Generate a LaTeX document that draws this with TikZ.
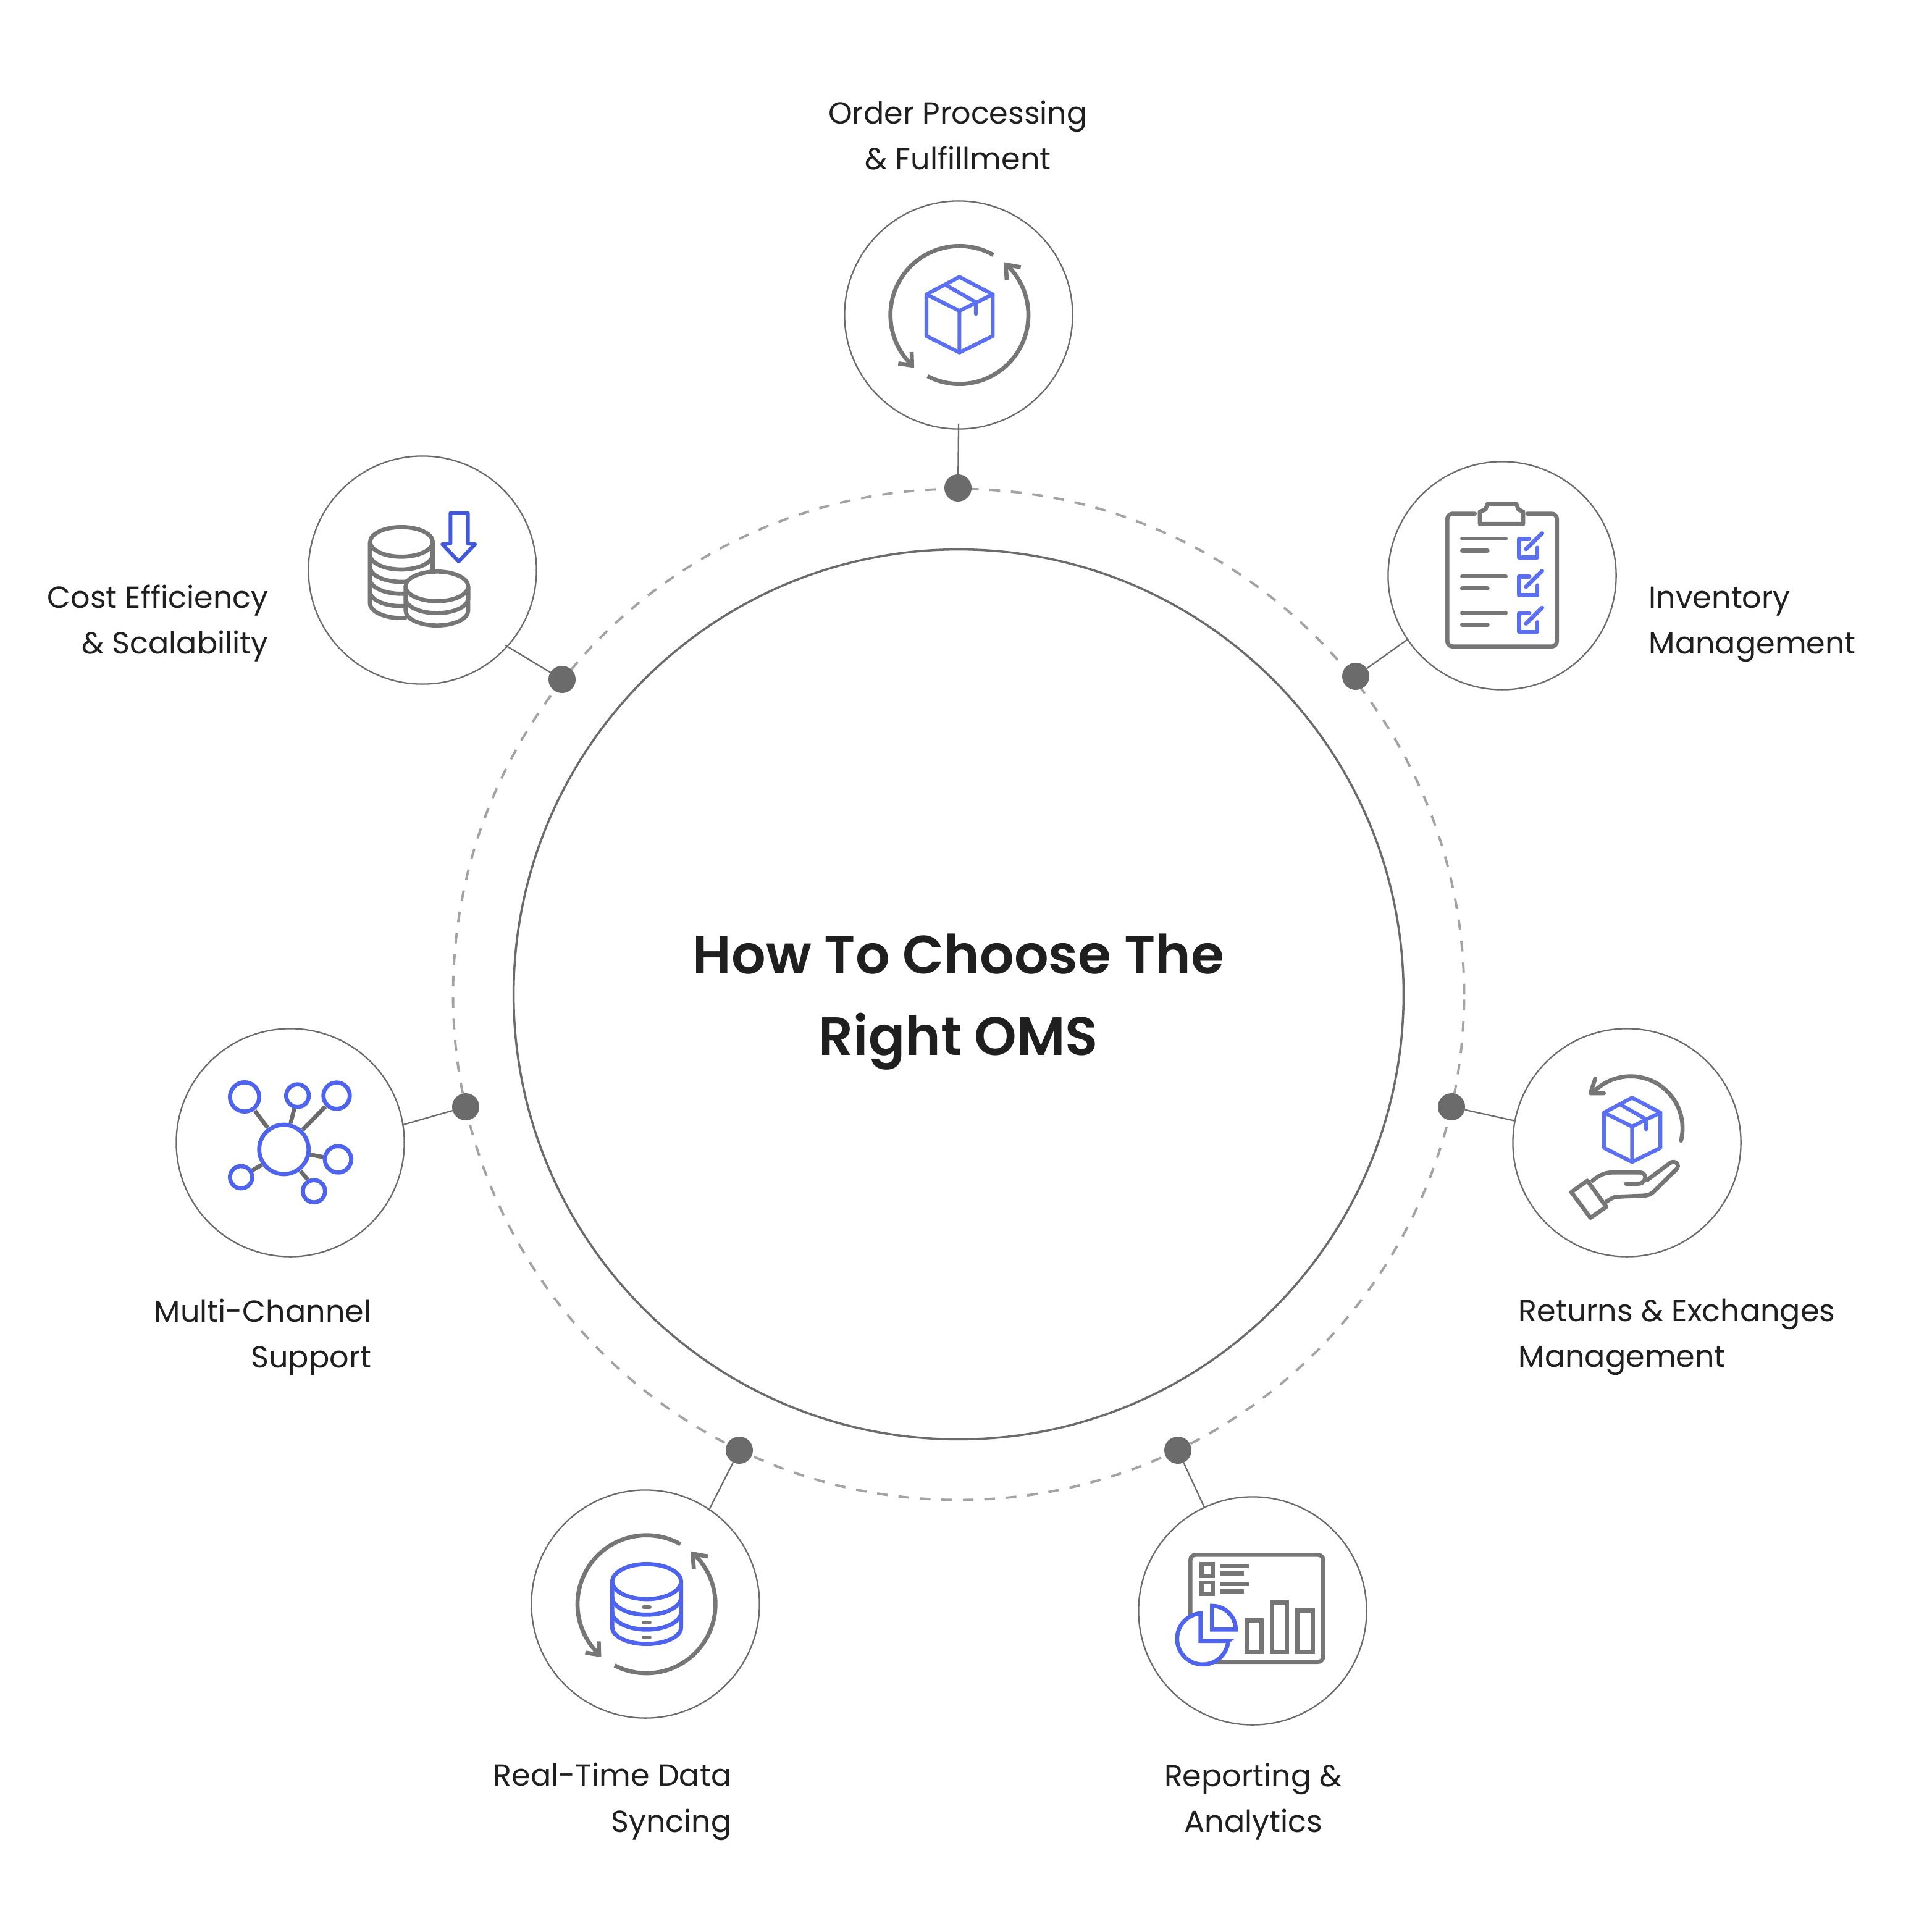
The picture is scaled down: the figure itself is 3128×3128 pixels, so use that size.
\documentclass[tikz,border=0pt]{standalone}
\usepackage{fontspec}
\setmainfont{Poppins}
\newfontfamily\titlefont{Poppins SemiBold}
\definecolor{ink}{HTML}{1F1F1F}
\definecolor{gr}{HTML}{767676}
\definecolor{dk}{HTML}{6B6B6B}
\definecolor{dsh}{HTML}{A3A3A3}
\definecolor{bl}{HTML}{5B6FF2}
\definecolor{bldb}{HTML}{4F64EE}
\definecolor{blar}{HTML}{4258DB}
\tikzset{
  ring/.style={circle,draw=dk,line width=0.65pt,minimum size=3.69cm,inner sep=0pt,outer sep=0pt,fill=white},
  dotn/.style={circle,fill=dk,minimum size=0.44cm,inner sep=0pt,outer sep=0pt},
  conn/.style={draw=dk,line width=0.65pt,shorten >=-0.4pt},
  lbl/.style={font=\fontsize{14}{21.2}\selectfont,text=ink,inner sep=0pt},
  gl/.style={draw=gr,line width=1.9pt,line join=round},
  bll/.style={draw=bl,line width=1.75pt,line join=round,line cap=round},
  rnd/.style={line cap=round}
}
\newcommand\ringarrows{%
  \draw[gl] (-60.5:335) arc[start angle=-60.5,end angle=-225,radius=335];
  \draw[gl] (117.5:335) arc[start angle=117.5,end angle=-45,radius=335];
  \draw[gl,line join=miter] (-232,180) -- (-230,245) -- (-297,235);
  \draw[gl,line join=miter] (230,-170) -- (225,-245) -- (298,-232);
}
\newcommand\boxicon{%
  \draw[bll] (0,-165) -- (162,-80) -- (162,122) -- (0,202) -- (-160,122) -- (-160,-80) -- cycle;
  \draw[bll] (-160,-80) -- (0,0) -- (162,-80) (0,0) -- (0,202);
  \draw[bll] (-65,-125) -- (80,-42) -- (80,15);
}
\newcommand\checkbox[1]{%
  \begin{scope}[shift={(0,#1)}]
  \draw[draw=bl,line width=1.9pt,line cap=round,line join=round] (708,367) -- (658,367) -- (658,457) -- (747,457) -- (747,410);
  \draw[draw=bl,line width=1.9pt,line cap=round] (692,417) -- (770,340);
  \end{scope}
}
\begin{document}
\begin{tikzpicture}[x=0.01cm,y=-0.01cm]
\useasboundingbox (0,0) rectangle (3128,3128);
\fill[white] (0,0) rectangle (3128,3128);
% rings
\node[circle,draw=dsh,line width=1.1pt,dash pattern=on 4.9pt off 5pt,minimum size=16.36cm,inner sep=0pt] (dashring) at (1552,1610) {};
\node[circle,draw=dk,line width=1pt,minimum size=14.4cm,inner sep=0pt] (core) at (1552,1610) {};
\node[align=center,text=ink,inner sep=0pt,font=\titlefont\fontsize{24.83}{37.7}\selectfont] (title) at (1552,1622) {How To Choose The\\Right OMS};
% outer circles
\node[ring] (c1) at (1552,510) {};
\node[ring] (c2) at (2432,932) {};
\node[ring] (c3) at (2634,1850) {};
\node[ring] (c4) at (2028,2608) {};
\node[ring] (c5) at (1045,2597) {};
\node[ring] (c6) at (470,1850) {};
\node[ring] (c7) at (684,923) {};
% dots
\node[dotn] (d1) at (1551,790) {};
\node[dotn] (d2) at (2195,1095) {};
\node[dotn] (d3) at (2350,1792) {};
\node[dotn] (d4) at (1907,2348) {};
\node[dotn] (d5) at (1197,2348) {};
\node[dotn] (d6) at (754,1792) {};
\node[dotn] (d7) at (910,1100) {};
% connectors
\draw[conn,shorten >=-2.5pt] (d1) -- (c1.south);
\draw[conn] (d2) -- (c2.214.7);
\draw[conn] (d3) -- (c3.169.9);
\draw[conn] (d4) -- (c4.115.4);
\draw[conn] (d5) -- (c5.56.6);
\draw[conn] (d6) -- (c6.9.2);
\draw[conn,shorten >=-1pt] (d7) -- (c7.-42.7);
% labels
\node[lbl,align=center] (l1) at (1551,219) {Order Processing\\\& Fulfillment};
\node[lbl,align=left,anchor=west] (l2) at (2669,1011) {Inventory\\Management};
\node[lbl,align=left,anchor=west] (l3) at (2458,2165) {Returns \& Exchanges\\Management};
\node[lbl,align=center] (l4) at (2029,2917) {Reporting \&\\Analytics};
\node[lbl,align=right,anchor=east] (l5) at (1185,2917) {Real-Time Data\\Syncing};
\node[lbl,align=right,anchor=east] (l6) at (602,2165) {Multi-Channel\\Support};
\node[lbl,align=right,anchor=east] (l7) at (435,1009) {Cost Efficiency\\\& Scalability};
% icon 1
\begin{scope}[shift={(1360,320)},scale=0.33333]
  \begin{scope}[shift={(580,570)}]\ringarrows\end{scope}
  \begin{scope}[shift={(580,550)}]\boxicon\end{scope}
\end{scope}
% icon 2
\begin{scope}[shift={(2240,750)},scale=0.33333]
  \draw[gl,rnd,rounded corners=2.4pt] (443,245) -- (310,245) -- (310,890) -- (842,890) -- (842,245) -- (698,245);
  \draw[gl] (468,295) -- (678,295) -- (678,235) -- (655,225) -- (645,198) -- (505,198) -- (495,225) -- (468,235) -- cycle;
  \foreach \yy in {366,549,727} {\draw[gl,rnd] (382,\yy) -- (593,\yy);}
  \foreach \yy in {424,607,785} {\draw[gl,rnd] (382,\yy) -- (505,\yy);}
  \checkbox{0}\checkbox{183}\checkbox{362}
\end{scope}
% icon 3
\begin{scope}[shift={(2440,1670)},scale=0.33333]
  \draw[gl,rnd] (845,530) arc[start angle=13.8,end angle=-137,radius=252];
  \draw[gl,rnd] (428,230) -- (405,300) -- (470,300);
  \begin{scope}[shift={(607,462)},scale=0.85]\boxicon\end{scope}
  \draw[gl] (390,725) -- (482,852) -- (405,905) -- (312,780) -- cycle;
  \draw[gl,rnd] (415,725) .. controls (450,695) and (480,685) .. (510,685) -- (645,685) .. controls (675,685) and (680,720) .. (655,735) .. controls (650,738) and (640,740) .. (630,740) -- (578,740);
  \draw[gl,rnd] (680,722) -- (790,640) .. controls (815,620) and (845,650) .. (820,672) -- (715,775) .. controls (700,790) and (690,795) .. (670,797) -- (530,803) .. controls (515,805) and (500,815) .. (480,828);
\end{scope}
% icon 4
\begin{scope}[shift={(1840,2430)},scale=0.33333]
  \draw[gl,line cap=butt,rounded corners=2.4pt] (262,560) -- (262,262) -- (907,262) -- (907,782) -- (380,782);
  \draw[gl,line join=miter] (316,308) rectangle (371,364);
  \draw[gl,line join=miter] (316,396) rectangle (371,452);
  \draw[gl] (407,318) -- (545,318) (407,352) -- (521,352) (407,405) -- (545,405) (407,440) -- (521,440);
  \draw[gl,line join=miter] (535,580) rectangle (608,733);
  \draw[gl,line join=miter] (659,493) rectangle (732,733);
  \draw[gl,line join=miter] (782,532) rectangle (856,733);
  \draw[draw=bldb,fill=white,line width=1.9pt,line join=miter] (447,680) -- (311,680) -- (311,546) arc[start angle=-95,end angle=-355,radius=124.5] -- cycle;
  \draw[draw=bldb,fill=white,line width=1.9pt,line join=miter] (367,625) -- (367,510) arc[start angle=-90,end angle=0,radius=115] -- cycle;
\end{scope}
% icon 5
\begin{scope}[shift={(860,2420)},scale=0.33333]
  \begin{scope}[shift={(560,532)}]\ringarrows\end{scope}
  \draw[draw=bldb,line width=1.9pt] (561,422) ellipse [x radius=167,y radius=85];
  \draw[draw=bldb,line width=1.9pt] (394,422) -- (394,645) arc[start angle=180,end angle=0,x radius=167,y radius=80] -- (728,422);
  \draw[draw=bldb,line width=1.9pt] (394,498) arc[start angle=180,end angle=0,x radius=167,y radius=85];
  \draw[draw=bldb,line width=1.9pt] (394,570) arc[start angle=180,end angle=0,x radius=167,y radius=85];
  \foreach \yy in {546,620,693} {\draw[draw=gr,line width=1.8pt,rnd] (547,\yy) -- (575,\yy);}
\end{scope}
% icon 6
\begin{scope}[shift={(270,1670)},scale=0.33333]
  \draw[draw=dk,line width=1.9pt] (428,385) -- (490,468) (620,372) -- (602,445) (770,365) -- (660,478) (695,598) -- (760,610) (462,648) -- (415,675) (650,678) -- (685,720);
  \foreach \xx/\yy/\rr in {569/573/120,378/318/71,635/312/55,825/312/64,832/621/64,361/708/54,715/776/54}
    {\draw[draw=bldb,line width=1.9pt] (\xx,\yy) circle [radius=\rr];}
\end{scope}
% icon 7
\begin{scope}[shift={(490,740)},scale=0.33333]
  \draw[gl] (480,412) ellipse [x radius=152,y radius=72];
  \draw[gl] (327,412) -- (327,710) arc[start angle=180,end angle=80,x radius=152,y radius=72];
  \draw[gl] (632,412) -- (632,548);
  \foreach \yy in {474,534,592,652} {\draw[gl] (327,\yy) arc[start angle=180,end angle=0,x radius=152,y radius=72];}
  \draw[gl,fill=white] (500,628) -- (500,746) arc[start angle=180,end angle=0,x radius=152,y radius=72] -- (805,628);
  \draw[gl,fill=white] (652,628) ellipse [x radius=152,y radius=72];
  \draw[gl] (500,686) arc[start angle=180,end angle=0,x radius=152,y radius=72];
  \draw[draw=blar,line width=1.7pt,line join=round] (718,272) -- (803,272) -- (803,420) -- (838,423) -- (758,507) -- (678,423) -- (718,420) -- cycle;
\end{scope}
\end{tikzpicture}
\end{document}
